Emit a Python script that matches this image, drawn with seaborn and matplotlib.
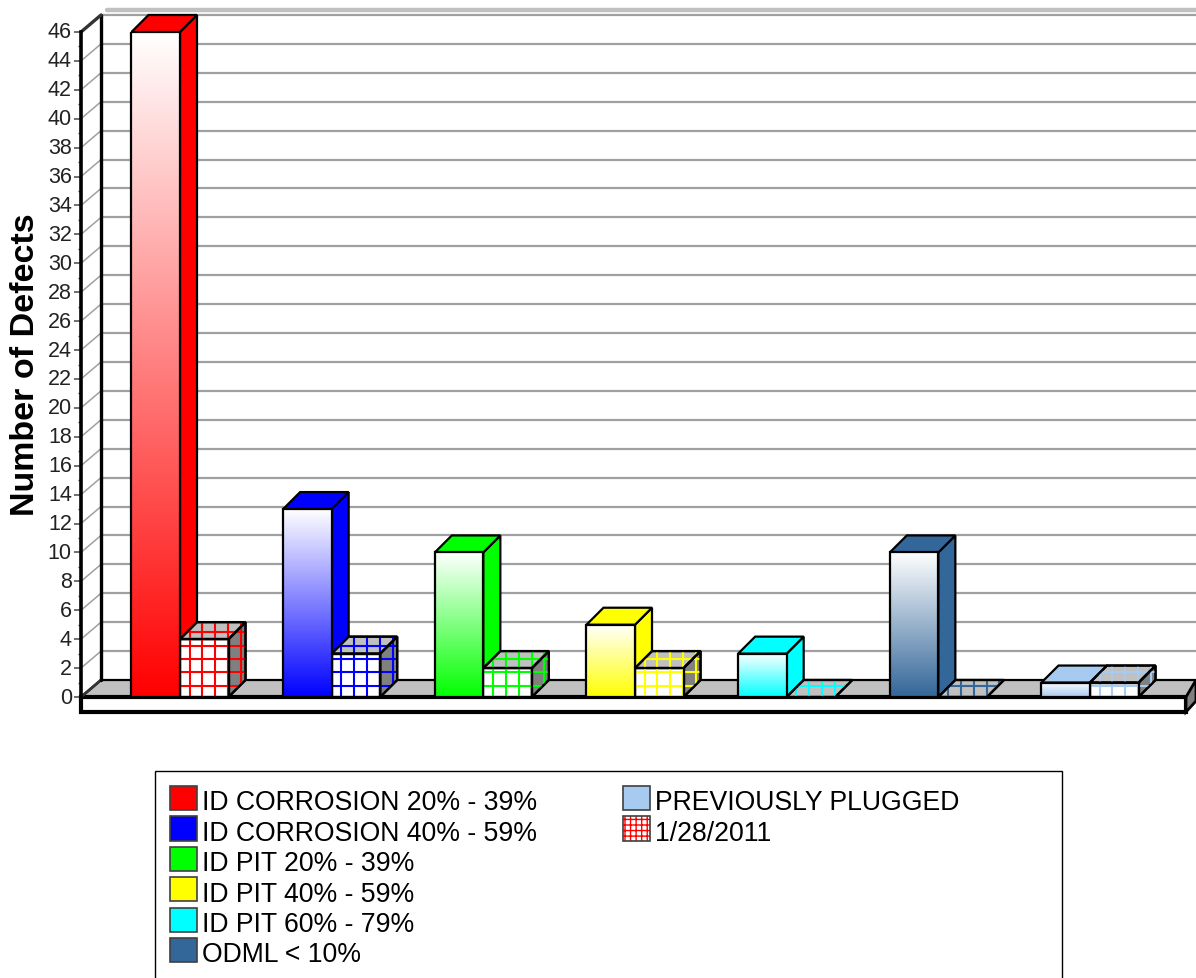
import numpy as np
import pandas as pd
import matplotlib
matplotlib.use("Agg")
import matplotlib.pyplot as plt
import seaborn as sns
from matplotlib.patches import Polygon, Rectangle, Patch
from matplotlib.collections import LineCollection
from matplotlib.legend_handler import HandlerBase
from matplotlib.colors import to_rgb

categories = ["ID CORROSION 20% - 39%", "ID CORROSION 40% - 59%", "ID PIT 20% - 39%",
              "ID PIT 40% - 59%", "ID PIT 60% - 79%", "ODML < 10%", "PREVIOUSLY PLUGGED"]
colors = ["#FF0000", "#0000FF", "#00FF00", "#FFFF00", "#00FFFF", "#336699", "#A6CAF0"]
current_values = [46, 13, 10, 5, 3, 10, 1]
previous_values = [4, 3, 2, 2, 0, 0, 1]
series_names = ["Current", "1/28/2011"]
y_ticks = list(range(0, 47, 2))

W, H = 1196, 979
sns.set_theme(style="white")
plt.rcParams["font.family"] = ["Liberation Sans", "DejaVu Sans"]

fig = plt.figure(figsize=(W / 100, H / 100), dpi=100, facecolor="white")
AX_L, AX_R, AX_T, AX_B = 81, 1186, 33, 698
ax = fig.add_axes([AX_L / W, 1 - AX_B / H, (AX_R - AX_L) / W, (AX_B - AX_T) / H])

df = pd.DataFrame({
    "category": categories * 2,
    "value": current_values + previous_values,
    "series": [series_names[0]] * 7 + [series_names[1]] * 7,
})
sns.barplot(data=df, x="category", y="value", hue="series", order=categories,
            hue_order=series_names, width=0.64, gap=0, dodge=True, legend=False,
            palette=["white", "white"], edgecolor="black", linewidth=1.6, ax=ax, zorder=6)

PX = 151.67                     # pixels per category
PY = (AX_B - AX_T) / 46.0       # pixels per unit
ax.set_xlim((AX_L - 180) / PX, (AX_R - 180) / PX)
ax.set_ylim(0, 46)

px = lambda n: n / PX
py = lambda n: n / PY
BAR_DX, BAR_DY = px(17), py(17)
WALL_DX, WALL_DY = px(20), py(17)
XL, XR = ax.get_xlim()
XFIG = XR + px(10)

# chart floor, front plinth, back wall
ax.add_patch(Polygon([(XL, 0), (XFIG, 0), (XFIG, WALL_DY), (XL + WALL_DX, WALL_DY)], closed=True,
                     facecolor="#C0C0C0", edgecolor="black", lw=1.6, zorder=2, clip_on=False))
ax.add_patch(Rectangle((XL, -py(15)), XR - XL, py(15), facecolor="white", edgecolor="black",
                       lw=3, zorder=3, clip_on=False))
ax.add_patch(Polygon([(XR, 0), (XFIG, WALL_DY), (XFIG, WALL_DY - py(15) * 1.4), (XR, -py(15))],
                     closed=True, facecolor="#808080", edgecolor="black", lw=2, zorder=3, clip_on=False))
for v in y_ticks:
    ax.plot([XL, XL + WALL_DX], [v, v + WALL_DY], color="#A0A0A0", lw=1.1, zorder=1, clip_on=False)
    if v > 0:
        ax.plot([XL + WALL_DX, XFIG], [v + WALL_DY] * 2, color="#A0A0A0", lw=1.6, zorder=1, clip_on=False)
ax.plot([XL + WALL_DX] * 2, [WALL_DY, 46 + WALL_DY], color="black", lw=2.4, zorder=4, clip_on=False)
ax.plot([XL, XL + WALL_DX], [46, 46 + WALL_DY], color="#333333", lw=2.4, zorder=4, clip_on=False)
ax.plot([XL, XL + WALL_DX], [0, WALL_DY], color="#333333", lw=2.0, zorder=3, clip_on=False)
ax.plot([XL + px(26), XFIG], [46 + py(22.5)] * 2, color="#C0C0C0", lw=3.2, zorder=1, clip_on=False)


def screen_grid(poly, color, x_start, y_start, z):
    """Screen aligned pattern-brush grid clipped to a face."""
    arr = np.array(poly)
    xs = np.arange(x_start, arr[:, 0].max(), px(12.9))
    ys = np.arange(y_start, arr[:, 1].max(), py(13.3))
    segs = [[(x, arr[:, 1].min()), (x, arr[:, 1].max())] for x in xs if x >= arr[:, 0].min()]
    segs += [[(arr[:, 0].min(), y), (arr[:, 0].max(), y)] for y in ys if y >= arr[:, 1].min()]
    clip = Polygon(poly, closed=True, transform=ax.transData, facecolor="none", edgecolor="none")
    ax.add_patch(clip)
    lc = LineCollection(segs, colors=color, linewidths=1.5, zorder=z)
    ax.add_collection(lc, autolim=False)
    lc.set_clip_path(clip)
    ax.add_patch(Polygon(poly, closed=True, facecolor="none", edgecolor="black", lw=1.6, zorder=z + 0.05,
                         clip_on=False))


def faces(x0, x1, v, color_top, color_side, z):
    top = [(x0, v), (x1, v), (x1 + BAR_DX, v + BAR_DY), (x0 + BAR_DX, v + BAR_DY)]
    side = [(x1, 0), (x1 + BAR_DX, BAR_DY), (x1 + BAR_DX, v + BAR_DY), (x1, v)]
    ax.add_patch(Polygon(side, closed=True, facecolor=color_side, edgecolor="black", lw=1.6, zorder=z, clip_on=False))
    ax.add_patch(Polygon(top, closed=True, facecolor=color_top, edgecolor="black", lw=1.6, zorder=z, clip_on=False))
    return top, side


bars = list(ax.patches)
bars = [b for b in bars if isinstance(b, Rectangle) and b.get_width() < 0.5 and b.get_x() >= -0.4 and b.get_y() == 0]
bars = sorted(bars, key=lambda b: b.get_x())
cur_bars, old_bars = bars[0::2], bars[1::2]

grad = np.linspace(0, 1, 256)[:, None]
for i, (b, col) in enumerate(zip(cur_bars, colors)):
    x0, x1, v = b.get_x(), b.get_x() + b.get_width(), current_values[i]
    faces(x0, x1, v, col, col, 5)
    rgb = np.array(to_rgb(col))
    img = np.ones((256, 1, 3)) * (1 - grad[..., None]) + rgb[None, None, :] * grad[..., None]
    im = ax.imshow(img, extent=(x0, x1, 0, v), origin="upper", aspect="auto", zorder=6, interpolation="bilinear")
    im.set_clip_path(Rectangle((x0, 0), x1 - x0, v, transform=ax.transData))
    b.set_zorder(7)
    b.set_facecolor("none")

for i, (b, col) in enumerate(zip(old_bars, colors)):
    x0, x1, v = b.get_x(), b.get_x() + b.get_width(), previous_values[i]
    z = 5.5
    top, side = faces(x0, x1, v, "#C0C0C0", "#808080", z)
    b.set_zorder(z + 0.02)
    x_start = x0 + px(9.5)
    screen_grid(top, col, x_start, py(11.5), z + 0.1)
    if v > 0:
        screen_grid(side, col, x_start, py(11.5), z + 0.1)
        front = [(x0, 0), (x1, 0), (x1, v), (x0, v)]
        screen_grid(front, col, x_start, py(11.5), z + 0.2)
ax.set_xlim(XL, XR)
ax.set_ylim(0, 46)

# axis
sns.despine(ax=ax, left=False, bottom=True, right=True, top=True)
ax.spines["left"].set_color("black")
ax.spines["left"].set_linewidth(2.6)
ax.spines["left"].set_bounds(-15 / PY, 46)
ax.spines["left"].set_zorder(8)
ax.set_yticks(y_ticks)
ax.set_yticks([t + 1 for t in y_ticks[:-1]], minor=True)
ax.tick_params(axis="y", which="major", left=True, length=5, width=1.2, color="#555555", labelsize=15.5,
               labelcolor="#222222", pad=1.6)
ax.tick_params(axis="y", which="minor", left=True, length=2.2, width=1, color="#555555")
for lab in ax.get_yticklabels():
    lab.set_verticalalignment("center")
ax.tick_params(axis="x", bottom=False, labelbottom=False)
ax.set_xlabel("")
ax.set_ylabel("")
ax.patch.set_alpha(0)
fig.text(26 / W, 1 - 365 / H, "Number of Defects", rotation=90, ha="center", va="center",
         fontsize=24.5, fontweight="bold", color="black")


# legend
SWATCH_RAISE = 1.44   # points


class SwatchHandler(HandlerBase):
    def create_artists(self, legend, orig, xd, yd, w, h, fontsize, trans):
        art = []
        y0 = -yd + SWATCH_RAISE
        if orig.get_hatch():
            art.append(Rectangle((-xd, y0), w, h, facecolor="white", edgecolor=orig.get_hatch_color_,
                                 hatch=orig.get_hatch(), lw=0, transform=trans))
        art.append(Rectangle((-xd, y0), w, h, facecolor=("none" if orig.get_hatch() else orig.get_facecolor()),
                             edgecolor="#404040", lw=1.2, transform=trans))
        return art


fig.add_artist(Rectangle((155 / W, -1), (1062 - 155) / W, 1 + 1 - 771.5 / H, transform=fig.transFigure,
                         facecolor="white", edgecolor="black", lw=1))


def make_handle(c, hatch=None):
    p = Patch(facecolor=c, hatch=hatch)
    p.get_hatch_color_ = c
    return p


LEG_FS = 19.2
kw = dict(frameon=False, fontsize=LEG_FS, handlelength=1.0, handleheight=1.02, handletextpad=0.2,
          labelspacing=0.12, borderpad=0, borderaxespad=0, loc="upper left",
          handler_map={Patch: SwatchHandler()}, labelcolor="black")
leg1 = fig.legend([make_handle(c) for c in colors[:6]], categories[:6],
                  bbox_to_anchor=(170 / W, 1 - 789 / H), **kw)
leg2 = fig.legend([make_handle(colors[6]), make_handle("#FF0000", "+++")], [categories[6], series_names[1]],
                  bbox_to_anchor=(623 / W, 1 - 789 / H), **kw)

fig.savefig("out.png", dpi=100)
